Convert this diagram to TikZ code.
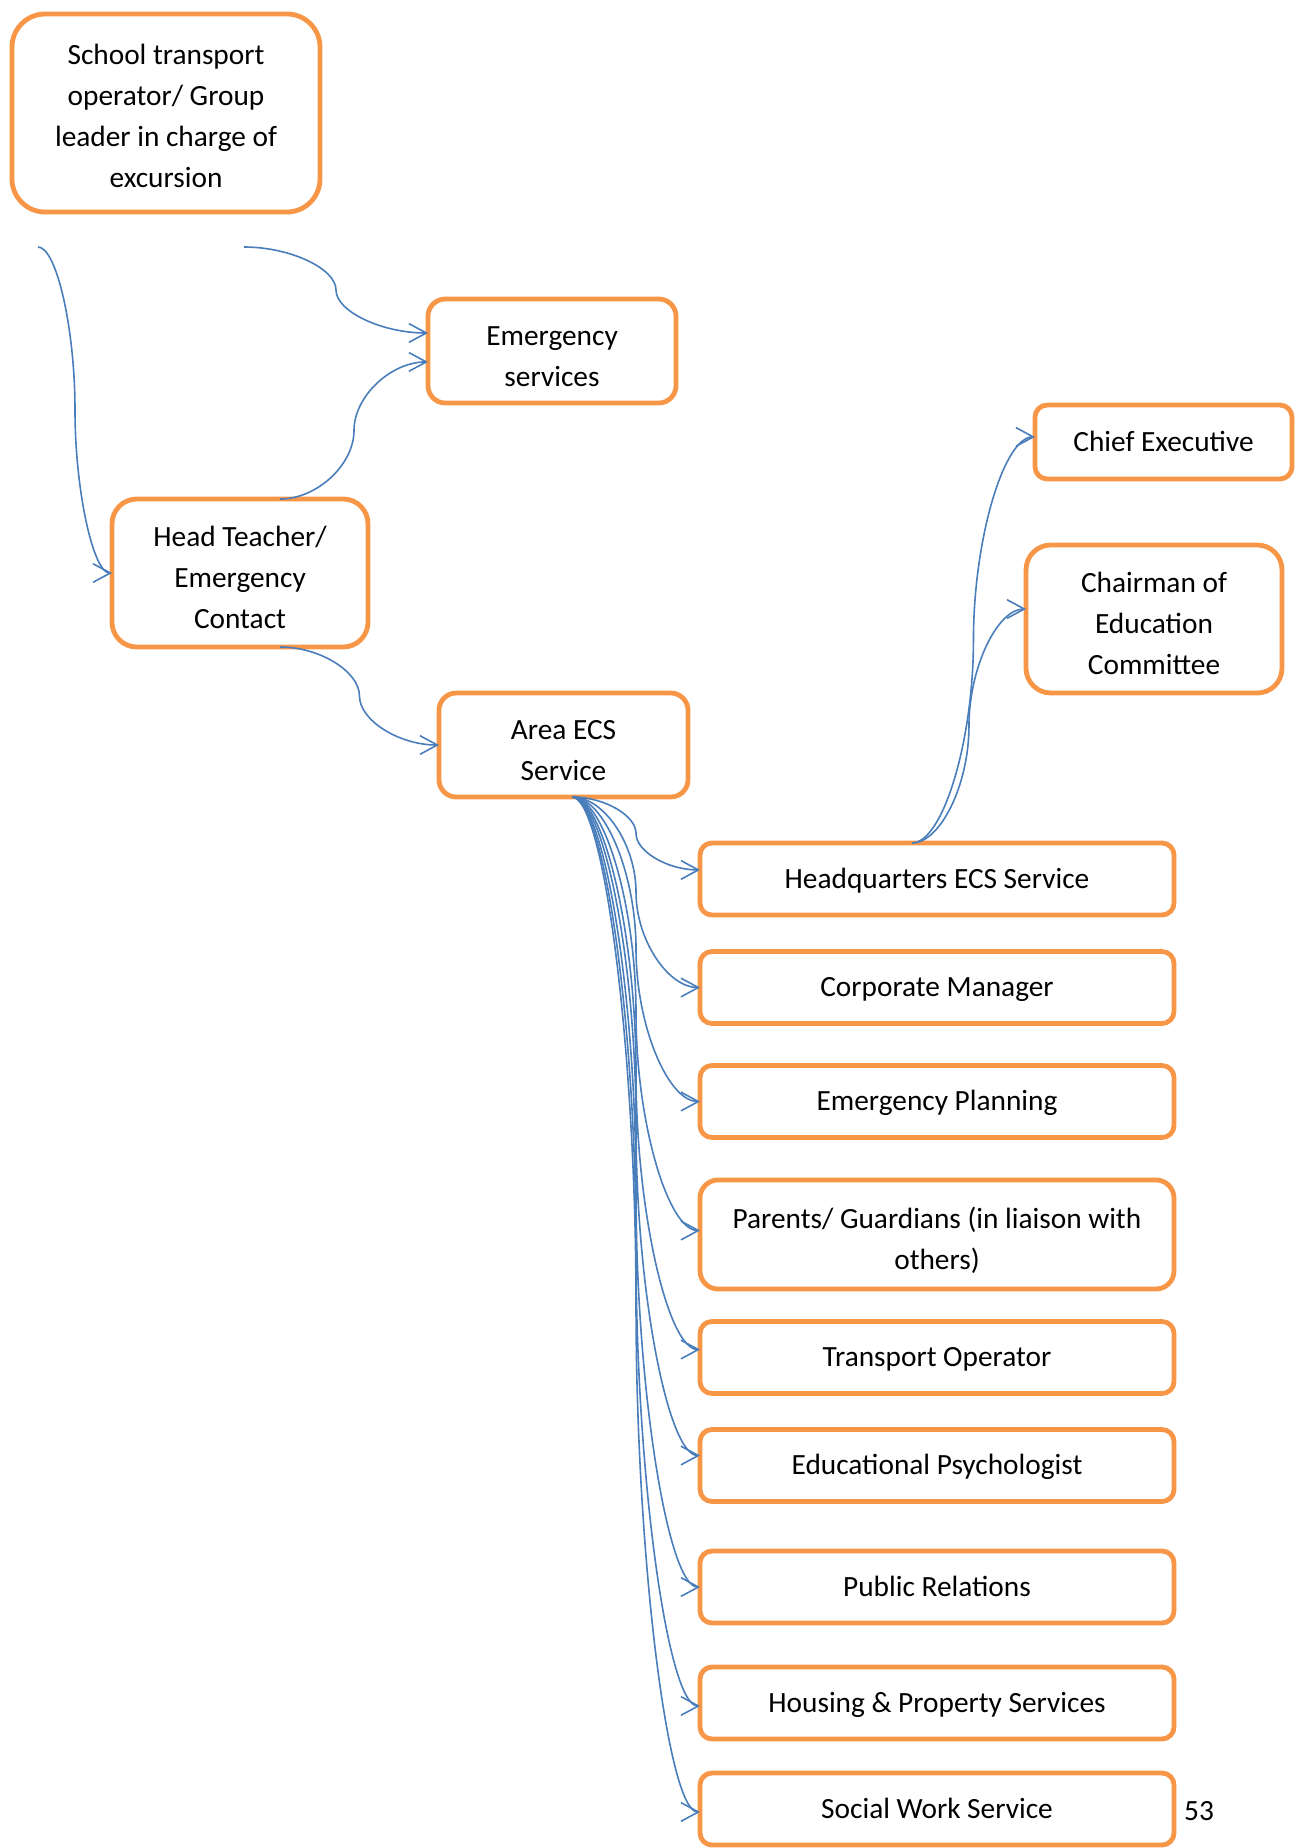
\documentclass[tikz,border=0pt]{standalone}
\usepackage{fontspec}
\setmainfont{Carlito}
\usetikzlibrary{arrows.meta,calc}

\definecolor{boxorange}{RGB}{247,150,70}
\definecolor{linkblue}{RGB}{74,126,187}

\tikzset{
  box/.style={draw=boxorange, line width=1.8pt, rounded corners=#1, align=center,
    inner sep=0pt, outer sep=0pt, font=\fontsize{11pt}{15.4pt}\selectfont,
    execute at begin node={\rule{0pt}{9.9pt}}, execute at end node={\rule[-3pt]{0pt}{0pt}}},
  box/.default=4.5pt,
  tall/.style={execute at begin node={\rule{0pt}{#1}}},
  colbox/.style={box, minimum width=177.75pt, minimum height=27pt},
  link/.style={draw=linkblue, line width=0.6pt, ->, >={Straight Barb[length=6.5pt,width=7pt]}},
  curvy/.style={to path={let \p1=(\tikztostart), \p2=(\tikztotarget) in
      .. controls ({(3*\x1+\x2)/4},\y1) and ({(\x1+\x2)/2},{(3*\y1+\y2)/4})
      .. ({(\x1+\x2)/2},{(\y1+\y2)/2})
      .. controls ({(\x1+\x2)/2},{(\y1+3*\y2)/4}) and ({(\x1+3*\x2)/4},\y2)
      .. (\tikztotarget)}},
}

\begin{document}
\begin{tikzpicture}[x=0.375pt, y=-0.375pt]
    \useasboundingbox (0,0) rectangle (1303,1848);

    % Left side
    \node[box=12.4pt, tall=58.9pt, minimum width=115.5pt, minimum height=74.25pt] (school) at (166,113)
        {School transport\\operator/ Group\\leader in charge of\\excursion};
    \node[box=6.5pt, tall=29.5pt, minimum width=93pt, minimum height=39pt] (emerg) at (552,351) {Emergency\\services};
    \node[box=9.3pt, tall=44.9pt, minimum width=96pt, minimum height=55.5pt] (head) at (240,573) {Head Teacher/\\Emergency\\Contact};
    \node[box=6.5pt, tall=29.5pt, minimum width=93.4pt, minimum height=39pt] (area) at (563.5,745) {Area ECS\\Service};

    % Top right
    \node[box=4.6pt, minimum width=96.4pt, minimum height=27.75pt] (chief) at (1163.5,442) {Chief Executive};
    \node[box=9.3pt, tall=44.9pt, minimum width=96pt, minimum height=55.5pt] (chair) at (1154,619) {Chairman of\\Education\\Committee};

    % Column of services
    \foreach \nm/\yy/\lbl in {hq/879/Headquarters ECS Service, corp/987.5/Corporate Manager,
        plan/1101.5/Emergency Planning, transport/1357.5/Transport Operator,
        psych/1465.5/Educational Psychologist, pr/1587/Public Relations,
        housing/1703/Housing \& Property Services, social/1809/Social Work Service}
        \node[colbox] (\nm) at (937,\yy) {\lbl};
    \node[box=6.8pt, tall=29.5pt, minimum width=177.75pt, minimum height=40.9pt] (parents) at (937,1234.5)
        {Parents/ Guardians (in liaison with\\others)};

    \node[font=\fontsize{11pt}{15.4pt}\selectfont] (pagenum) at (1199,1811) {53};

    % Loose connector ends under the first box
    \coordinate (loose1) at (38,247);
    \coordinate (loose2) at (244,247);

    \draw[link] (loose1) to[curvy] (head.west);
    \draw[link] (loose2) to[curvy] ([yshift=6.75pt]emerg.west);
    \draw[link] ([xshift=15pt]head.north) to[curvy] ([yshift=-4.1pt]emerg.west);
    \draw[link] ([xshift=15pt]head.south) to[curvy] (area.west);
    \draw[link] ([xshift=-9.4pt]hq.north) to[curvy] ([yshift=1.9pt]chief.west);
    \draw[link] ([xshift=-9.4pt]hq.north) to[curvy] ([yshift=3.75pt]chair.west);

    % Fan out of Area ECS
    \foreach \nm/\dy in {hq/3.4pt, corp/0pt, plan/0pt, parents/1.5pt, transport/3pt,
        psych/3.75pt, pr/0pt, housing/-1.1pt, social/-1.1pt}
        \draw[link] ([xshift=3.2pt]area.south) to[curvy] ([yshift=\dy]\nm.west);
\end{tikzpicture}
\end{document}
